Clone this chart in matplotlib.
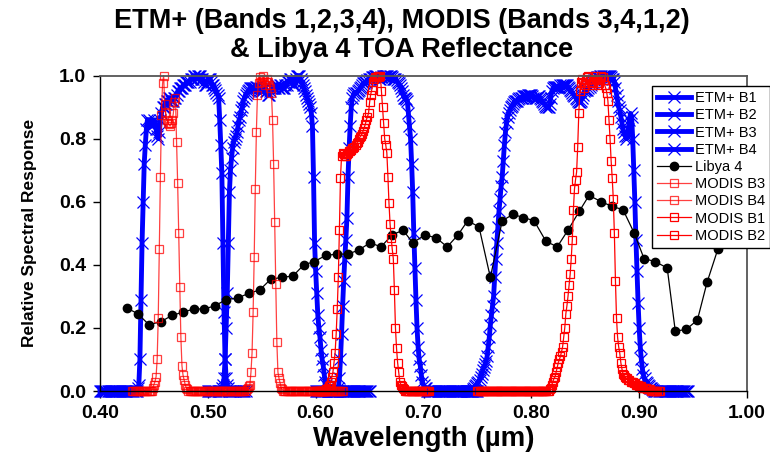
import numpy as np
import matplotlib
matplotlib.use("Agg")
import matplotlib.pyplot as plt
from matplotlib.ticker import FormatStrFormatter

plt.rcParams['font.family'] = ['Liberation Sans', 'DejaVu Sans']

# ---- Relative spectral responses, 1 nm sampling (start wavelength in nm) ----
etm_b1_start = 400
etm_b1 = [
    0, 0, 0, 0, 0, 0, 0, 0, 0, 0,
    0, 0, 0, 0, 0, 0, 0, 0, 0, 0,
    0, 0, 0, 0, 0, 0, 0, 0, 0, 0,
    0, 0, 0, 0, 0, 0.01, 0.02, 0.10, 0.29, 0.47,
    0.60, 0.72, 0.78, 0.83, 0.86, 0.86, 0.85, 0.84, 0.84, 0.85,
    0.86, 0.85, 0.83, 0.81, 0.80, 0.82, 0.86, 0.88, 0.90, 0.90,
    0.91, 0.91, 0.92, 0.92, 0.93, 0.93, 0.92, 0.92, 0.92, 0.93,
    0.93, 0.94, 0.95, 0.95, 0.96, 0.96, 0.96, 0.97, 0.97, 0.97,
    0.98, 0.98, 0.98, 0.98, 0.99, 0.99, 0.99, 1.00, 1.00, 0.99,
    0.99, 1.00, 1.00, 1.00, 0.99, 0.99, 0.98, 0.97, 0.97, 0.98,
    0.99, 0.99, 0.99, 0.98, 0.97, 0.97, 0.96, 0.955, 0.945, 0.94,
    0.93, 0.86, 0.78, 0.69, 0.47, 0.25, 0.10, 0.04, 0.02, 0.01,
    0, 0, 0, 0, 0, 0, 0, 0, 0, 0,
    0, 0, 0, 0, 0, 0,
]

etm_b2_start = 500
etm_b2 = [
    0, 0, 0, 0, 0, 0, 0, 0, 0, 0,
    0, 0, 0, 0.01, 0.02, 0.04, 0.10, 0.20, 0.31, 0.47,
    0.63, 0.70, 0.74, 0.77, 0.79, 0.80, 0.81, 0.82, 0.84, 0.86,
    0.87, 0.89, 0.90, 0.92, 0.93, 0.94, 0.945, 0.95, 0.955, 0.96,
    0.96, 0.96, 0.96, 0.96, 0.96, 0.965, 0.965, 0.96, 0.955, 0.95,
    0.95, 0.955, 0.96, 0.96, 0.95, 0.95, 0.94, 0.94, 0.95, 0.96,
    0.96, 0.96, 0.96, 0.97, 0.97, 0.96, 0.96, 0.97, 0.97, 0.96,
    0.96, 0.96, 0.97, 0.97, 0.98, 0.98, 0.99, 0.99, 0.98, 0.97,
    0.97, 0.98, 0.99, 1.00, 1.00, 1.00, 0.99, 0.98, 0.97, 0.96,
    0.95, 0.94, 0.93, 0.92, 0.91, 0.90, 0.88, 0.84, 0.68, 0.47,
    0.38, 0.31, 0.24, 0.20, 0.17, 0.13, 0.10, 0.08, 0.05, 0.03,
    0.02, 0.01, 0, 0, 0, 0, 0, 0, 0, 0,
    0, 0, 0, 0, 0, 0, 0, 0, 0, 0,
    0, 0, 0, 0, 0, 0, 0, 0, 0, 0,
    0, 0, 0, 0, 0, 0, 0, 0, 0, 0,
    0,
]

etm_b3_start = 600
etm_b3 = [
    0, 0, 0, 0, 0, 0, 0, 0, 0, 0,
    0, 0, 0, 0, 0, 0, 0, 0, 0, 0,
    0, 0.01, 0.04, 0.10, 0.18, 0.27, 0.35, 0.42, 0.48, 0.55,
    0.68, 0.77, 0.84, 0.90, 0.93, 0.94, 0.945, 0.945, 0.945, 0.95,
    0.955, 0.96, 0.965, 0.97, 0.975, 0.975, 0.98, 0.98, 0.985, 0.99,
    0.99, 0.99, 0.995, 0.995, 0.995, 1.00, 1.00, 1.00, 0.995, 0.99,
    0.99, 0.995, 1.00, 1.00, 1.00, 1.00, 1.00, 0.995, 0.995, 1.00,
    1.00, 0.995, 0.99, 0.99, 0.99, 0.985, 0.98, 0.975, 0.97, 0.96,
    0.95, 0.94, 0.93, 0.93, 0.925, 0.92, 0.88, 0.84, 0.80, 0.72,
    0.63, 0.50, 0.39, 0.29, 0.20, 0.14, 0.10, 0.08, 0.05, 0.03,
    0.02, 0.01, 0.01, 0, 0, 0, 0, 0, 0, 0,
    0, 0, 0, 0, 0, 0, 0, 0, 0, 0,
    0, 0, 0, 0, 0, 0, 0, 0, 0, 0,
    0, 0, 0, 0, 0, 0, 0, 0, 0, 0,
    0, 0, 0, 0, 0, 0, 0, 0, 0, 0,
    0,
]

etm_b4_start = 740
etm_b4 = [
    0, 0, 0, 0, 0, 0, 0.005, 0.01, 0.015, 0.02,
    0.025, 0.03, 0.035, 0.045, 0.055, 0.065, 0.075, 0.085, 0.095, 0.11,
    0.14, 0.17, 0.21, 0.24, 0.27, 0.30, 0.36, 0.42, 0.47, 0.52,
    0.57, 0.61, 0.65, 0.68, 0.73, 0.78, 0.82, 0.85, 0.87, 0.88,
    0.89, 0.90, 0.905, 0.91, 0.915, 0.92, 0.92, 0.92, 0.925, 0.93,
    0.93, 0.93, 0.935, 0.935, 0.935, 0.935, 0.935, 0.94, 0.94, 0.94,
    0.94, 0.935, 0.93, 0.93, 0.93, 0.93, 0.935, 0.935, 0.93, 0.925,
    0.92, 0.915, 0.91, 0.905, 0.90, 0.90, 0.90, 0.91, 0.93, 0.95,
    0.96, 0.965, 0.965, 0.965, 0.965, 0.965, 0.965, 0.97, 0.97, 0.97,
    0.97, 0.97, 0.97, 0.97, 0.965, 0.96, 0.955, 0.95, 0.945, 0.94,
    0.935, 0.93, 0.925, 0.92, 0.915, 0.915, 0.92, 0.93, 0.94, 0.95,
    0.955, 0.955, 0.955, 0.96, 0.965, 0.97, 0.975, 0.98, 0.985, 0.99,
    0.99, 0.995, 0.995, 0.995, 1.00, 1.00, 1.00, 1.00, 1.00, 1.00,
    1.00, 1.00, 1.00, 1.00, 0.995, 0.99, 0.99, 0.98, 0.96, 0.94,
    0.92, 0.90, 0.89, 0.87, 0.85, 0.83, 0.82, 0.81, 0.80, 0.81,
    0.83, 0.86, 0.88, 0.87, 0.80, 0.70, 0.60, 0.48, 0.38, 0.28,
    0.20, 0.14, 0.10, 0.07, 0.05, 0.04, 0.03, 0.025, 0.02, 0.015,
    0.01, 0.008, 0.005, 0.003, 0, 0, 0, 0, 0, 0,
    0, 0, 0, 0, 0, 0, 0, 0, 0, 0,
    0, 0, 0, 0, 0, 0, 0, 0, 0, 0,
    0, 0, 0, 0, 0, 0,
]

modis_b3_start = 430
modis_b3 = [
    0, 0, 0, 0, 0, 0, 0, 0, 0, 0,
    0, 0, 0, 0, 0, 0, 0, 0, 0, 0.01,
    0.02, 0.03, 0.045, 0.10, 0.23, 0.45, 0.68, 0.875, 0.975, 1.00,
    0.91, 0.88, 0.86, 0.85, 0.845, 0.84, 0.85, 0.86, 0.88, 0.915,
    0.93, 0.79, 0.66, 0.50, 0.33, 0.17, 0.08, 0.05, 0.035, 0.02,
    0.01, 0.005, 0, 0, 0, 0, 0, 0, 0, 0,
    0, 0, 0, 0, 0, 0, 0, 0, 0, 0,
    0, 0, 0, 0, 0, 0, 0, 0, 0, 0,
    0,
]

modis_b4_start = 510
modis_b4 = [
    0, 0, 0, 0, 0, 0, 0, 0, 0, 0,
    0, 0, 0, 0, 0, 0, 0, 0, 0, 0,
    0, 0, 0, 0, 0, 0, 0.005, 0.01, 0.015, 0.02,
    0.06, 0.12, 0.25, 0.425, 0.64, 0.82, 0.94, 0.975, 0.996, 0.98,
    0.99, 1.00, 0.985, 0.97, 0.98, 0.99, 0.98, 0.97, 0.96, 0.945,
    0.86, 0.72, 0.535, 0.34, 0.155, 0.06, 0.04, 0.025, 0.01, 0.005,
    0, 0, 0, 0, 0, 0, 0, 0, 0, 0,
    0, 0, 0, 0, 0, 0, 0, 0, 0, 0,
    0, 0, 0, 0, 0, 0, 0, 0, 0, 0,
    0, 0, 0, 0, 0, 0, 0, 0, 0, 0,
    0, 0, 0, 0, 0, 0, 0, 0, 0, 0,
    0, 0, 0, 0, 0, 0,
]

modis_b1_start = 600
modis_b1 = [
    0, 0, 0, 0, 0, 0, 0, 0, 0, 0,
    0.005, 0.01, 0.015, 0.02, 0.03, 0.045, 0.06, 0.09, 0.12, 0.18,
    0.26, 0.36, 0.51, 0.675, 0.745, 0.755, 0.75, 0.745, 0.745, 0.75,
    0.755, 0.76, 0.76, 0.765, 0.77, 0.77, 0.775, 0.78, 0.785, 0.79,
    0.80, 0.805, 0.81, 0.815, 0.825, 0.835, 0.845, 0.86, 0.87, 0.88,
    0.915, 0.94, 0.955, 0.98, 0.99, 0.995, 0.995, 0.996, 1.00, 0.995,
    1.00, 0.95, 0.90, 0.85, 0.80, 0.78, 0.755, 0.68, 0.595, 0.53,
    0.485, 0.45, 0.42, 0.32, 0.20, 0.135, 0.09, 0.06, 0.03, 0.02,
    0.015, 0.01, 0.005, 0, 0, 0, 0, 0, 0, 0,
    0, 0, 0, 0, 0, 0, 0, 0, 0, 0,
    0, 0, 0, 0, 0, 0,
]

modis_b2_start = 750
modis_b2 = [
    0, 0, 0, 0, 0, 0, 0, 0, 0, 0,
    0, 0, 0, 0, 0, 0, 0, 0, 0, 0,
    0, 0, 0, 0, 0, 0, 0, 0, 0, 0,
    0, 0, 0, 0, 0, 0, 0, 0, 0, 0,
    0, 0, 0, 0, 0, 0, 0, 0, 0, 0,
    0, 0, 0, 0, 0, 0, 0, 0, 0, 0,
    0, 0, 0, 0, 0, 0, 0, 0.005, 0.01, 0.02,
    0.03, 0.04, 0.045, 0.06, 0.075, 0.09, 0.10, 0.11, 0.125, 0.14,
    0.17, 0.20, 0.245, 0.27, 0.30, 0.335, 0.37, 0.42, 0.48, 0.575,
    0.64, 0.67, 0.695, 0.775, 0.88, 0.95, 0.98, 0.99, 0.975, 0.96,
    0.97, 0.985, 0.995, 1.00, 0.99, 0.975, 0.97, 0.98, 0.99, 1.00,
    0.99, 0.985, 0.97, 0.975, 0.99, 1.00, 0.995, 0.985, 0.97, 0.96,
    0.945, 0.92, 0.86, 0.80, 0.73, 0.675, 0.61, 0.50, 0.35, 0.23,
    0.17, 0.14, 0.12, 0.09, 0.07, 0.055, 0.05, 0.045, 0.04, 0.04,
    0.035, 0.035, 0.03, 0.03, 0.03, 0.025, 0.025, 0.02, 0.02, 0.02,
    0.015, 0.015, 0.015, 0.01, 0.01, 0.01, 0.01, 0.005, 0.005, 0.005,
    0.005, 0, 0, 0, 0, 0, 0, 0, 0, 0,
]

# ---- Libya 4 TOA reflectance ----
libya_wl = [0.425, 0.435, 0.4455, 0.4565, 0.467, 0.477, 0.487, 0.4965, 0.5065,
            0.517, 0.528, 0.538, 0.548, 0.5585, 0.569, 0.579, 0.589, 0.5985,
            0.6095, 0.620, 0.630, 0.640, 0.6505, 0.6605, 0.671, 0.681, 0.690,
            0.7015, 0.712, 0.722, 0.732, 0.741, 0.7515, 0.762, 0.773, 0.783,
            0.7925, 0.8025, 0.8135, 0.824, 0.834, 0.8445, 0.8535, 0.865, 0.875,
            0.885, 0.8955, 0.9045, 0.915, 0.926, 0.9335, 0.9435, 0.954, 0.963,
            0.973, 0.983]
libya_refl = [0.263, 0.245, 0.21, 0.22, 0.24, 0.25, 0.26, 0.26, 0.27,
              0.29, 0.295, 0.31, 0.32, 0.355, 0.36, 0.365, 0.40, 0.41,
              0.43, 0.434, 0.434, 0.447, 0.47, 0.457, 0.495, 0.51, 0.47,
              0.495, 0.485, 0.457, 0.495, 0.54, 0.52, 0.36, 0.54, 0.56,
              0.55, 0.54, 0.475, 0.457, 0.51, 0.57, 0.62, 0.60, 0.585,
              0.575, 0.50, 0.42, 0.41, 0.39, 0.19, 0.195, 0.225, 0.345,
              0.45, 0.55]

x_ticks = [0.40, 0.50, 0.60, 0.70, 0.80, 0.90, 1.00]
y_ticks = [0.0, 0.2, 0.4, 0.6, 0.8, 1.0]


def wavelengths(start_nm, values):
    return (start_nm + np.arange(len(values))) / 1000.0


fig = plt.figure(figsize=(7.7, 4.58), dpi=100)
ax = fig.add_axes([100 / 770, 1 - 391 / 458, 647 / 770, 315.4 / 458])

etm_style = dict(color='#0000ff', lw=3.5, marker='x', ms=8, mew=0.9, clip_on=False)
for start, vals, name in [(etm_b1_start, etm_b1, 'ETM+ B1'),
                          (etm_b2_start, etm_b2, 'ETM+ B2'),
                          (etm_b3_start, etm_b3, 'ETM+ B3'),
                          (etm_b4_start, etm_b4, 'ETM+ B4')]:
    ax.plot(wavelengths(start, vals), vals, label=name, **etm_style)

ax.plot(libya_wl, libya_refl, color='black', lw=0.9, marker='o', ms=6,
        label='Libya 4', clip_on=False)

for start, vals, name, alpha in [(modis_b3_start, modis_b3, 'MODIS B3', 0.75),
                                 (modis_b4_start, modis_b4, 'MODIS B4', 0.75),
                                 (modis_b1_start, modis_b1, 'MODIS B1', 1.0),
                                 (modis_b2_start, modis_b2, 'MODIS B2', 1.0)]:
    ax.plot(wavelengths(start, vals), vals, color='#ff0000', alpha=alpha,
            lw=0.9, marker='s', ms=5.5, mew=0.9, mfc='none', label=name,
            clip_on=False)

ax.set_xlim(0.40, 1.00)
ax.set_ylim(0.0, 1.0)
ax.set_xticks(x_ticks)
ax.set_yticks(y_ticks)
ax.xaxis.set_major_formatter(FormatStrFormatter('%.2f'))
ax.yaxis.set_major_formatter(FormatStrFormatter('%.1f'))
ax.tick_params(direction='out', length=5, width=1, labelsize=14, pad=5)
for lbl in ax.get_xticklabels() + ax.get_yticklabels():
    lbl.set_fontweight('bold')

for side in ['left', 'bottom']:
    ax.spines[side].set_color('black')
    ax.spines[side].set_linewidth(1.0)
for side in ['top', 'right']:
    ax.spines[side].set_color('#555555')
    ax.spines[side].set_linewidth(1.3)

ax.set_xlabel('Wavelength (µm)', fontsize=20, fontweight='bold', labelpad=3)
ax.set_ylabel('Relative Spectral Response', fontsize=12.5, fontweight='bold',
              labelpad=16)

fig.text(0.522, 1 - 28 / 458, 'ETM+ (Bands 1,2,3,4), MODIS (Bands 3,4,1,2)',
         ha='center', va='baseline', fontsize=19.5, fontweight='bold')
fig.text(0.522, 1 - 57 / 458, '& Libya 4 TOA Reflectance',
         ha='center', va='baseline', fontsize=19.5, fontweight='bold')

leg = ax.legend(loc='upper left', bbox_to_anchor=((652 - 100) / 647, (391 - 86) / 315.4),
                borderaxespad=0, fontsize=10.5, frameon=True, fancybox=False,
                edgecolor='black', framealpha=1, handlelength=2.3,
                labelspacing=0.22, borderpad=0.35, handletextpad=0.3)
leg.get_frame().set_linewidth(1.0)
leg.set_zorder(10)

fig.savefig('out.png', dpi=100)
